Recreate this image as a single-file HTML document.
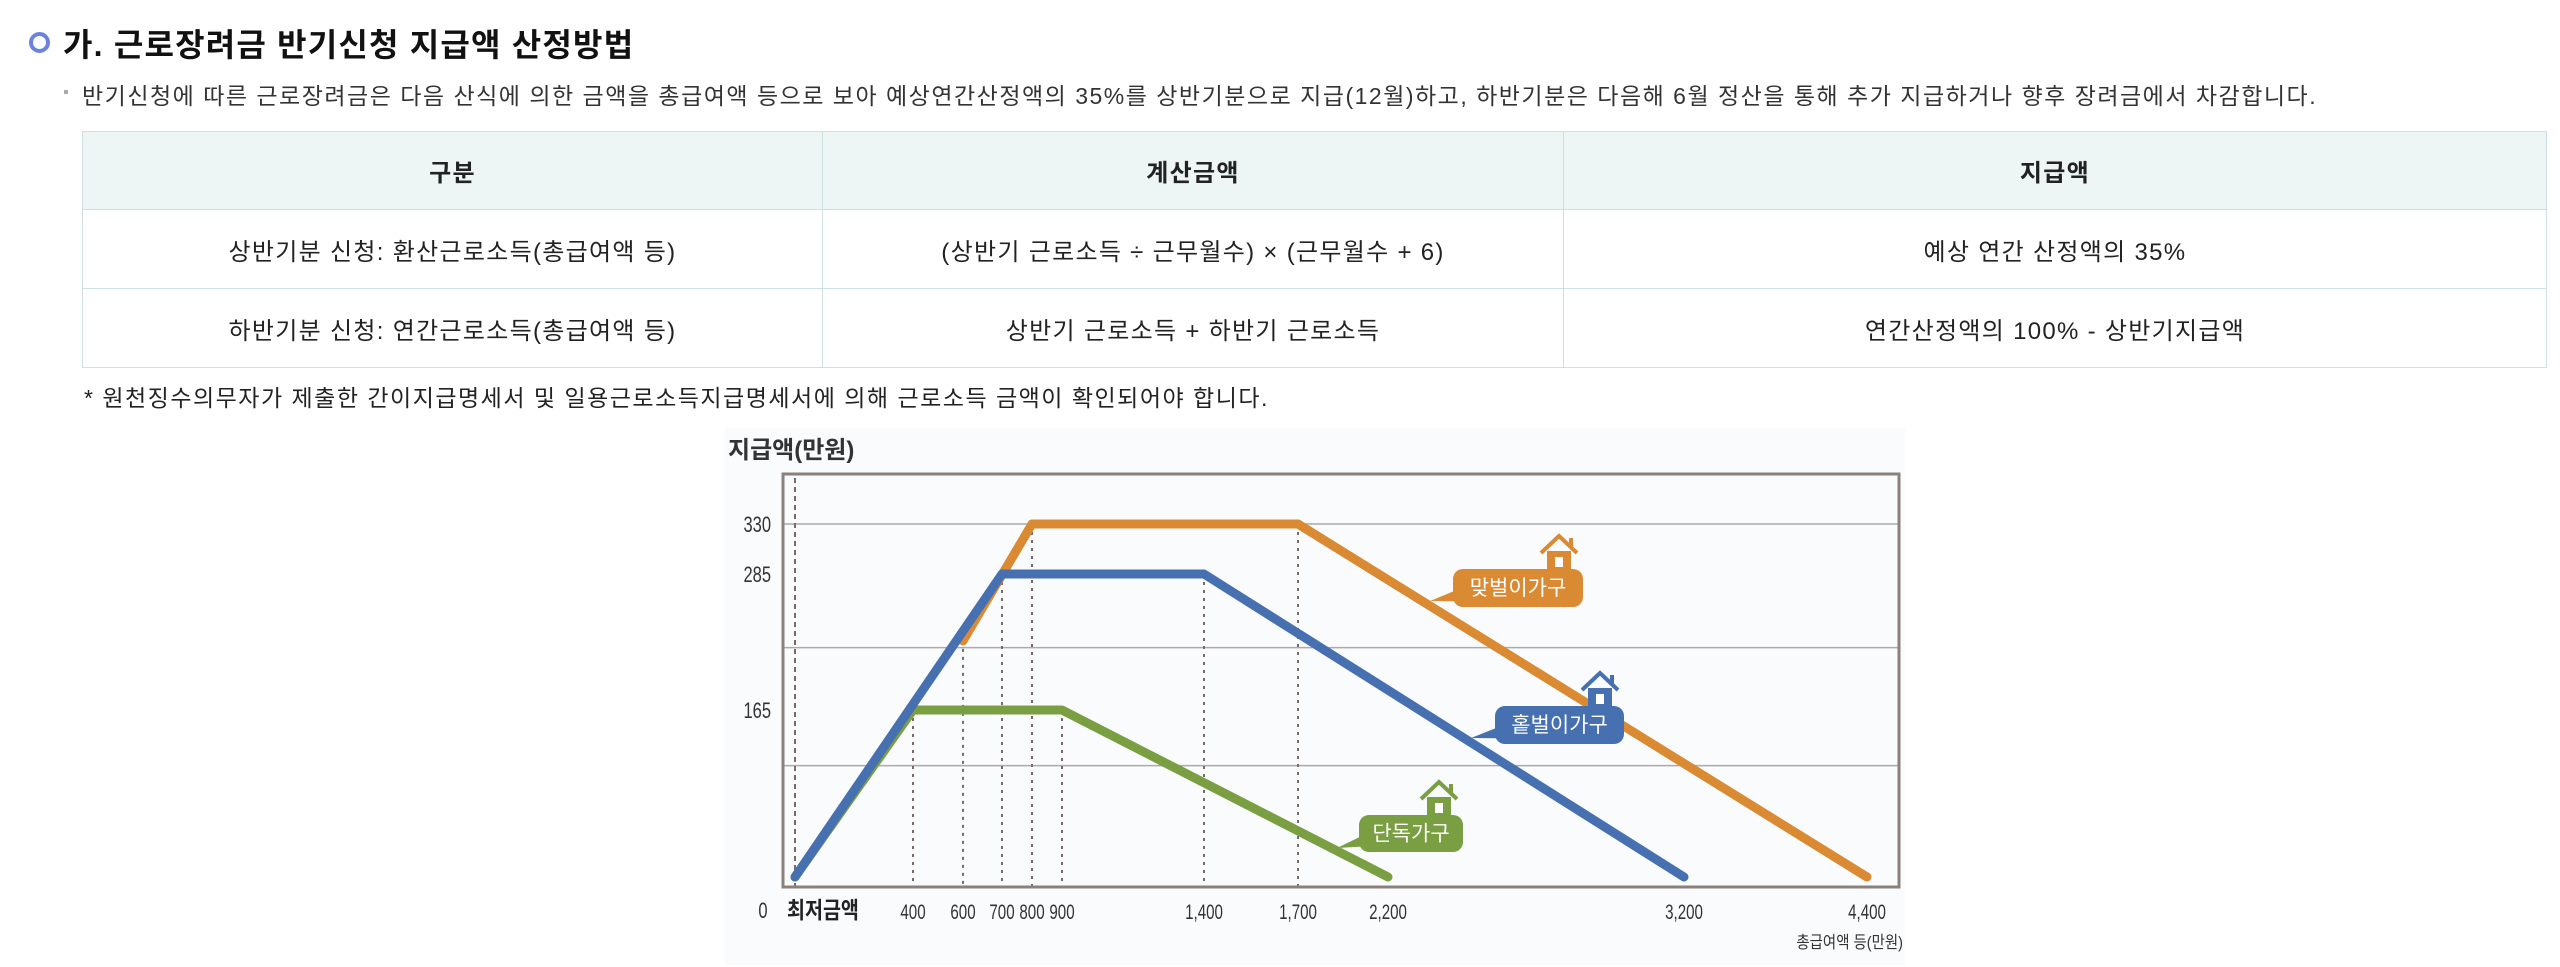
<!DOCTYPE html>
<html lang="ko"><head><meta charset="utf-8">
<style>
html,body{margin:0;padding:0;background:#fff;width:2560px;height:967px;overflow:hidden;font-family:"Liberation Sans","Noto Sans CJK KR",sans-serif;color:#222}
.title{position:absolute;left:63px;top:20px;font-size:32px;letter-spacing:1.2px;font-weight:bold;color:#111;white-space:nowrap}
.circle{position:absolute;left:29px;top:32px;width:13px;height:13px;border:4px solid #6b83de;border-radius:50%}
.note{position:absolute;left:82px;top:77px;font-size:23px;letter-spacing:1.5px;color:#333;white-space:nowrap}
.bullet{position:absolute;left:64px;top:90px;width:4px;height:4px;background:#aaa}
table{position:absolute;left:82px;top:131px;border-collapse:collapse;width:2465px}
td,th{border:1.5px solid #cfe0e0;text-align:center;font-size:24px;letter-spacing:1.3px;color:#222;padding:0}
th{background:#eef6f5;height:77px;font-weight:bold}
td{height:78px}
.foot{position:absolute;left:84px;top:379px;font-size:23px;letter-spacing:1.5px;color:#222;white-space:nowrap}
</style></head><body>
<div class="circle"></div>
<div class="title">가. 근로장려금 반기신청 지급액 산정방법</div>
<div class="bullet"></div>
<div class="note">반기신청에 따른 근로장려금은 다음 산식에 의한 금액을 총급여액 등으로 보아 예상연간산정액의 35%를 상반기분으로 지급(12월)하고, 하반기분은 다음해 6월 정산을 통해 추가 지급하거나 향후 장려금에서 차감합니다.</div>
<table>
<tr><th style="width:739px">구분</th><th style="width:740px">계산금액</th><th>지급액</th></tr>
<tr><td>상반기분 신청: 환산근로소득(총급여액 등)</td><td>(상반기 근로소득 ÷ 근무월수) × (근무월수 + 6)</td><td>예상 연간 산정액의 35%</td></tr>
<tr><td>하반기분 신청: 연간근로소득(총급여액 등)</td><td>상반기 근로소득 + 하반기 근로소득</td><td>연간산정액의 100% - 상반기지급액</td></tr>
</table>
<div class="foot">* 원천징수의무자가 제출한 간이지급명세서 및 일용근로소득지급명세서에 의해 근로소득 금액이 확인되어야 합니다.</div>

<svg id="chart" width="2560" height="967" style="position:absolute;left:0;top:0" font-family="Liberation Sans, Noto Sans CJK KR, sans-serif"></svg>
<script>
const xTicks = [400, 600, 700, 800, 900, 1400, 1700, 2200, 3200, 4400];
const xTickLabels = ["400","600","700","800","900","1,400","1,700","2,200","3,200","4,400"];
const yTicks = [165, 285, 330];
const yTickLabels = ["165","285","330"];
const gridValues = [110, 220, 330];
const singleX = [0, 400, 900, 2200];
const singleY = [0, 165, 165, 0];
const soleX = [0, 700, 1400, 3200];
const soleY = [0, 285, 285, 0];
const dualX = [600, 800, 1700, 4400];
const dualY = [226, 330, 330, 0];

// axis scales (piecewise, matching the non-uniform source axis)
const xDom = [0, 400, 600, 700, 800, 900, 1400, 1700, 2200, 3200, 4400];
const xRng = [795, 913, 963, 1002, 1032, 1062, 1204, 1298, 1388, 1684, 1867];
const yDom = [0, 165, 285, 330];
const yRng = [877, 710, 574, 524];
function pw(v, d, r){
  for (let i=0;i<d.length-1;i++){ if (v<=d[i+1]||i===d.length-2){ return r[i]+(v-d[i])*(r[i+1]-r[i])/(d[i+1]-d[i]); } }
}
const X = v => pw(v, xDom, xRng);
const Y = v => pw(v, yDom, yRng);
const NS = "http://www.w3.org/2000/svg";
const svg = document.getElementById('chart');
function mk(tag, attrs, parent){
  const e = document.createElementNS(NS, tag);
  for (const k in attrs) e.setAttribute(k, attrs[k]);
  (parent||svg).appendChild(e); return e;
}
const L = 783, R = 1899, T = 474, B = 887;
let e;
e = mk('rect',{x:725,y:428,width:1180,height:537,fill:'#f9fbfd'});


e = mk('text',{x:728,y:458,'font-size':24,fill:'#333','font-weight':'bold'}); e.textContent='지급액(만원)';


gridValues.forEach(v=>{
  const g = mk('line',{x1:L,x2:R,y1:Y(v),y2:Y(v),stroke:'#aaa','stroke-width':1.5});
  
  
});
e = mk('line',{x1:X(0),x2:X(0),y1:T+4,y2:B,stroke:'#7a6a66','stroke-width':2,'stroke-dasharray':'5 4'});


const guideTops = {400:165,600:226,700:285,800:330,900:165,1400:285,1700:330};
xTicks.forEach(v=>{
  if (guideTops[v]!==undefined){
    const g = mk('line',{x1:X(v),x2:X(v),y1:Y(guideTops[v]),y2:B,stroke:'#7a6a66','stroke-width':2,'stroke-dasharray':'3 5'});
    
    
  }
});
e = mk('rect',{x:L,y:T,width:R-L,height:B-T,fill:'none',stroke:'#8a807c','stroke-width':3});


function series(xs, ys, color, name){
  const pts = xs.map((x,i)=>X(x)+','+Y(ys[i])).join(' ');
  const p = mk('polyline',{points:pts,fill:'none',stroke:color,'stroke-width':9,'stroke-linejoin':'round','stroke-linecap':'round'});
  
  
}
series(singleX, singleY, '#7a9e42', 'single-household-line');
series(dualX, dualY, '#d98a32', 'dual-income-line');
series(soleX, soleY, '#4670b0', 'single-income-line');
yTicks.forEach((v,i)=>{
  const t = mk('text',{x:0,y:0,'font-size':22,fill:'#333','text-anchor':'end',transform:`translate(771,${Y(v)+8}) scale(0.75,1)`}); t.textContent=yTickLabels[i];
  
  
});
e = mk('text',{x:0,y:0,'font-size':22,fill:'#333','text-anchor':'middle',transform:'translate(763,918) scale(0.75,1)'}); e.textContent='0';


e = mk('text',{x:0,y:0,'font-size':23,fill:'#222','font-weight':'bold',transform:'translate(787,918) scale(0.85,1)'}); e.textContent='최저금액';


xTicks.forEach((v,i)=>{
  const t = mk('text',{x:0,y:0,'font-size':21,fill:'#333','text-anchor':'middle',transform:`translate(${X(v)},919) scale(0.72,1)`}); t.textContent=xTickLabels[i];
  
  
});
e = mk('text',{x:0,y:0,'font-size':17,fill:'#333','text-anchor':'end',transform:'translate(1903,948) scale(0.85,1)'}); e.textContent='총급여액 등(만원)';


function bubble(x,y,w,h,color,label,px,py,name){
  const g = mk('g',{});
  
  
  mk('polygon',{points:`${x+4},${y+h*0.55} ${x+4},${y+h*0.85} ${px},${py}`,fill:color},g);
  const hx = x+w-44, hy = y-34;
  mk('polyline',{points:`${hx+2},${hy+18} ${hx+20},${hy+1} ${hx+38},${hy+18}`,fill:'none',stroke:color,'stroke-width':4},g);
  mk('rect',{x:hx+30,y:hy+3,width:4,height:9,fill:color},g);
  mk('rect',{x:hx+8,y:hy+16,width:24,height:20,fill:color},g);
  mk('rect',{x:hx+16,y:hy+22,width:8,height:10,fill:'#fff'},g);
  mk('rect',{x:x,y:y,width:w,height:h,rx:10,fill:color},g);
  const t = mk('text',{x:x+w/2,y:y+h/2+7,'font-size':21,fill:'#fff','text-anchor':'middle'},g); t.textContent=label;
}
bubble(1453,569,130,38,'#d98a32','맞벌이가구',1430,601,'dual-income-label');
bubble(1495,706,129,38,'#4670b0','홑벌이가구',1471,738,'single-income-label');
bubble(1359,815,104,37,'#7a9e42','단독가구',1337,848,'single-household-label');
</script>
</body></html>
